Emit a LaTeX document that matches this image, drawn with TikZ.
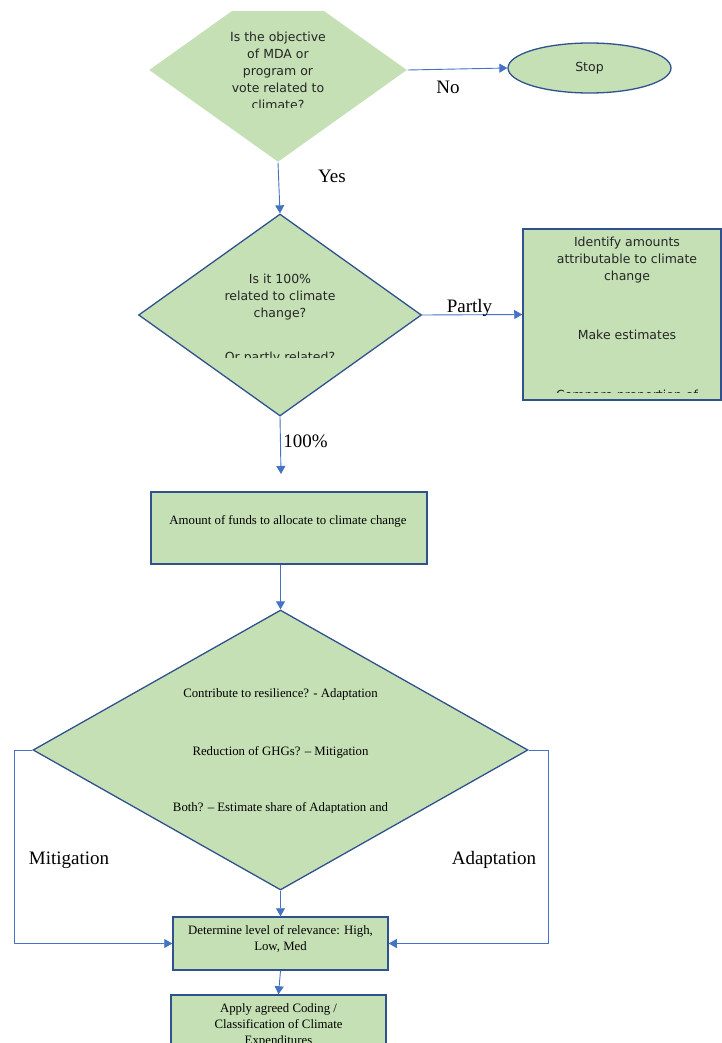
\documentclass[tikz,border=0pt]{standalone}
\usepackage{fontspec}
\setmainfont{Liberation Serif}
\newfontfamily\vsans{DejaVu Sans}
\usetikzlibrary{shapes.geometric, arrows.meta}

\definecolor{boxgreen}{HTML}{C5E0B4}
\definecolor{edgeblue}{HTML}{2F528F}
\definecolor{linkblue}{HTML}{4472C4}

\begin{document}
\begin{tikzpicture}[
        x=1pt, y=-1pt,
        % Estilos para formas
        decision/.style={
                diamond,
                fill=boxgreen,
                draw=edgeblue,
                line width=1.3pt,
                inner sep=0pt
            },
        process/.style={
                rectangle,
                fill=boxgreen,
                draw=edgeblue,
                line width=1.5pt,
                inner sep=0pt
            },
        terminal/.style={
                ellipse,
                fill=boxgreen,
                draw=edgeblue,
                line width=1.3pt,
                inner sep=0pt
            },
        % Estilos de texto
        sanstext/.style={
                align=center,
                inner sep=0pt,
                font=\vsans\fontsize{12.5}{17}\selectfont,
                text=black!85
            },
        seriftext/.style={
                align=center,
                inner sep=0pt,
                font=\fontsize{12.8}{16}\selectfont
            },
        branch/.style={
                inner sep=0pt,
                font=\fontsize{19}{22}\selectfont
            },
        % Flechas
        conn/.style={
                -{Triangle[width=9pt,length=8pt]},
                draw=linkblue,
                line width=0.9pt
            }
    ]

    \path[use as bounding box] (0,0) rectangle (722,1043);
    \clip (0,0) rectangle (722,1043);

    % Primera pregunta
    \begin{scope}
        \clip (0,12) rectangle (722,200);
        \node[decision, draw=none, minimum width=258pt, minimum height=184pt] (objq) at (278,70) {};
    \end{scope}
    \begin{scope}
        \clip (0,0) rectangle (722,108);
        \node[sanstext] (objqtext) at (278,71) {Is the objective\\ of MDA or\\ program or\\ vote related to\\ climate?};
    \end{scope}

    \node[terminal, sanstext, minimum width=163pt, minimum height=50pt] (stop) at (589.5,68) {Stop};

    % Segunda pregunta
    \node[decision, minimum width=283pt, minimum height=202pt] (shareq) at (280,315) {};
    \begin{scope}
        \clip (0,0) rectangle (722,357);
        \node[sanstext, anchor=north] (shareqtext) at (280,274) {Is it 100\%\\ related to climate\\ change?\\[27pt] Or partly related?};
    \end{scope}

    \node[process, minimum width=198pt, minimum height=171pt] (partbox) at (622,314.5) {};
    \begin{scope}
        \clip (523,229) rectangle (721,392);
        \node[sanstext, anchor=north] (partboxtext) at (627,237) {Identify amounts\\ attributable to climate\\ change\\[42pt] Make estimates\\[43pt] Compare proportion of};
    \end{scope}

    % Fondos
    \node[process, minimum width=276pt, minimum height=72pt] (funds) at (289,528) {};
    \node[seriftext] (fundstext) at (288,521) {Amount of funds to allocate to climate change};

    % Tipo de gasto
    \node[decision, minimum width=495pt, minimum height=280pt] (typeq) at (280.5,750) {};
    \begin{scope}
        \clip (0,0) rectangle (722,812);
        \node[seriftext, anchor=north] (typeqtext) at (280.5,688.5) {Contribute to resilience? - Adaptation\\[42pt] Reduction of GHGs? – Mitigation\\[40pt] Both? – Estimate share of Adaptation and};
    \end{scope}

    \node[process, minimum width=215pt, minimum height=53pt] (relev) at (280.5,943.5) {};
    \node[seriftext, anchor=north] (relevtext) at (280.5,925.5) {Determine level of relevance: High,\\ Low, Med};

    \node[process, minimum width=215pt, minimum height=80pt] (coding) at (278.5,1035) {};
    \node[seriftext, anchor=north] (codingtext) at (278.5,1003.5) {Apply agreed Coding /\\ Classification of Climate\\ Expenditures};

    % Flechas
    \coordinate (pctend) at (281,474);
    \draw[conn] (objq.east) -- (stop.west);
    \draw[conn] (objq.south) -- (shareq.north);
    \draw[conn] (shareq.east) -- (partbox.west);
    \draw[conn] (shareq.south) -- (pctend);
    \draw[conn] (funds.south -| typeq.north) -- (typeq.north);
    \draw[conn] (typeq.south) -- (relev.north);
    \draw[conn] (relev.south) -- (coding.north);
    \draw[conn] (typeq.west) -- ++(-18,0) |- (relev.west);
    \draw[conn] (typeq.east) -- ++(20,0) |- (relev.east);

    % Etiquetas
    \node[branch] (no) at (448,87) {No};
    \node[branch] (yes) at (332,176) {Yes};
    \node[branch] (partly) at (469.5,308) {Partly};
    \node[branch] (pct) at (305.5,441) {100\%};
    \node[branch] (mitig) at (69,860) {Mitigation};
    \node[branch] (adapt) at (494,860) {Adaptation};

\end{tikzpicture}
\end{document}
